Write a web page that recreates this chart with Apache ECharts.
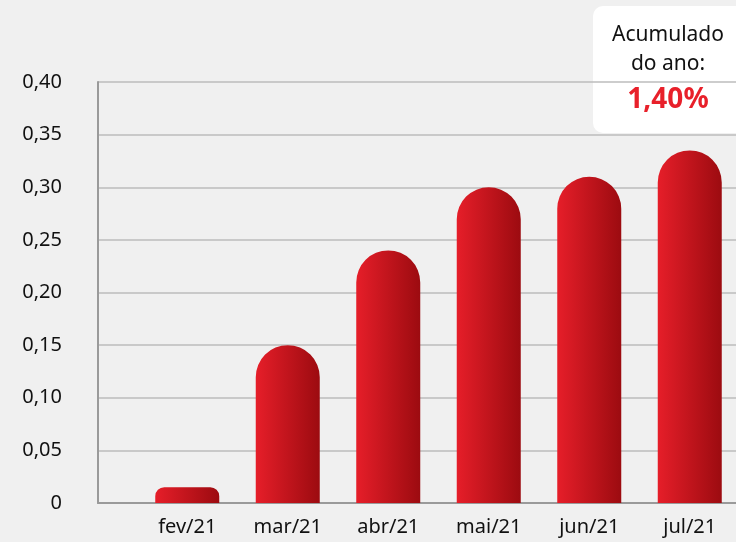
<!DOCTYPE html>
<html>
<head>
<meta charset="utf-8">
<script src="https://cdn.jsdelivr.net/npm/echarts@6/dist/echarts.min.js"></script>
<style>
	html, body { margin: 0; padding: 0; background: #f0f0f0; overflow: hidden; }
	#chart { width: 740px; height: 542px; }
</style>
</head>
<body>
<div id="chart"></div>
<script>
// dados
var meses = ['fev/21', 'mar/21', 'abr/21', 'mai/21', 'jun/21', 'jul/21'];
var valores = [0.015, 0.15, 0.24, 0.30, 0.31, 0.335];
var acumulado = '1,40%';

var myChart = echarts.init(document.getElementById('chart'));

var barras = [];
for (var i = 0; i < valores.length; i++) {
	var item = { value: valores[i] };
	if (valores[i] < 0.03) {
		item.itemStyle = { borderRadius: [9, 9, 0, 0] };
	}
	barras.push(item);
}

var option = {
	backgroundColor: '#f0f0f0',
	textStyle: { fontFamily: 'Noto Sans' },
	grid: [
		{ left: 98, right: 0, top: 82, bottom: 39 },
		{ left: 137, right: 0, top: 82, bottom: 39 }
	],
	xAxis: [{
		gridIndex: 0,
		type: 'value',
		min: 0,
		max: 1,
		axisLine: { show: true, lineStyle: { color: '#9a9a9a', width: 2 } },
		axisTick: { show: false },
		axisLabel: { show: false },
		splitLine: { show: false }
	}, {
		gridIndex: 1,
		type: 'category',
		data: meses,
		axisLine: { show: false },
		axisTick: { show: false },
		axisLabel: { color: '#111', fontSize: 20, margin: 14 }
	}],
	yAxis: [{
		gridIndex: 0,
		type: 'value',
		min: 0,
		max: 0.4,
		interval: 0.05,
		axisLine: { show: true, lineStyle: { color: '#9a9a9a', width: 2 } },
		axisTick: { show: false },
		axisLabel: {
			color: '#111',
			fontSize: 20,
			margin: 36,
			formatter: function(v) {
				if (v === 0) return '0';
				return v.toFixed(2).replace('.', ',');
			}
		},
		splitLine: { lineStyle: { color: '#bdbdbd', width: 1.5 } }
	}, {
		gridIndex: 1,
		type: 'value',
		min: 0,
		max: 0.4,
		interval: 0.05,
		show: false
	}],
	series: [{
		type: 'bar',
		xAxisIndex: 1,
		yAxisIndex: 1,
		barWidth: 64,
		data: barras,
		itemStyle: {
			borderRadius: [32, 32, 0, 0],
			color: new echarts.graphic.LinearGradient(0, 0, 1, 0, [
				{ offset: 0, color: '#e61e29' },
				{ offset: 1, color: '#9c0b10' }
			])
		}
	}],
	graphic: [{
		type: 'rect',
		left: 593,
		top: 6,
		shape: { width: 160, height: 127, r: 10 },
		style: { fill: '#ffffff' }
	}, {
		type: 'text',
		x: 668,
		y: 35,
		style: {
			text: 'Acumulado',
			fill: '#111',
			font: '21px "Noto Sans"',
			align: 'center',
			verticalAlign: 'middle'
		}
	}, {
		type: 'text',
		x: 668,
		y: 64,
		style: {
			text: 'do ano:',
			fill: '#111',
			font: '21px "Noto Sans"',
			align: 'center',
			verticalAlign: 'middle'
		}
	}, {
		type: 'text',
		x: 668,
		y: 100,
		style: {
			text: acumulado,
			fill: '#e8202a',
			font: 'bold 28px "Noto Sans"',
			align: 'center',
			verticalAlign: 'middle'
		}
	}]
};

myChart.setOption(option);

window.onresize = function() {
	myChart.resize();
};
</script>
</body>
</html>
